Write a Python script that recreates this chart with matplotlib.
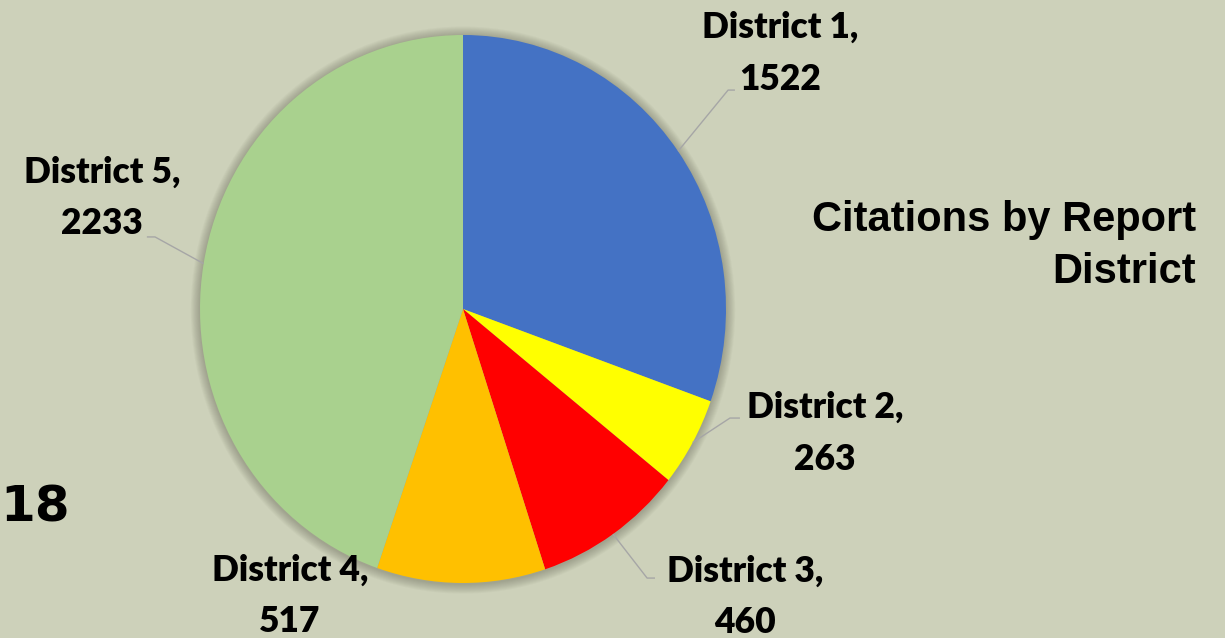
import numpy as np
import matplotlib
matplotlib.use("Agg")
import matplotlib.pyplot as plt
from matplotlib.patches import Ellipse

districts = ["District 1", "District 2", "District 3", "District 4", "District 5"]
citations = [1522, 263, 460, 517, 2233]
colors = ["#4472C4", "#FFFF00", "#FF0000", "#FFC000", "#A9D18E"]
title = "Citations by Report\nDistrict"

BG = "#CDD1BA"
W, H = 1225, 638
fig = plt.figure(figsize=(W / 100, H / 100), dpi=100, facecolor=BG)
ax = fig.add_axes([0, 0, 1, 1])
ax.set_facecolor(BG)

# pie geometry in pixels -> data limits (data unit = radius)
cx, cy, rx, ry = 463, 309, 263, 274

# soft shadow
for k in range(10):
    r = 1.0 + 0.0035 * (10 - k)
    ax.add_patch(Ellipse((0, -0.004), 2 * r, 2 * r, facecolor="#3a3a30",
                         alpha=0.03, edgecolor="none", zorder=1))

wedges, _ = ax.pie(citations, colors=colors, startangle=90, counterclock=False,
                   radius=1.0, wedgeprops=dict(linewidth=0, zorder=2))
ax.set_aspect("auto")
ax.set_xlim(-cx / rx, (W - cx) / rx)
ax.set_ylim((cy - H) / ry, cy / ry)
ax.axis("off")

lab_font = dict(family=["Lato", "DejaVu Sans"], fontsize=25.5, fontweight="heavy",
                color="black", ha="center", va="center", linespacing=1.7)
label_pos = [(1.205, 0.934), (1.376, -0.453), (1.072, -1.051), (-0.658, -1.047), (-1.373, 0.405)]
# leader lines: (elbow, end) or None
leaders = [((1.008, 0.799), (1.034, 0.799)),
           ((1.015, -0.398), (1.053, -0.398)),
           ((0.700, -0.982), (0.730, -0.982)),
           None,
           ((-1.171, 0.263), (-1.202, 0.263))]

for w, name, val, pos, ld in zip(wedges, districts, citations, label_pos, leaders):
    ax.text(pos[0], pos[1], f"{name},\n{val}", **lab_font, zorder=5)
    if ld is not None:
        mid = np.deg2rad((w.theta1 + w.theta2) / 2)
        p0 = (np.cos(mid), np.sin(mid))
        ax.plot([p0[0], ld[0][0], ld[1][0]], [p0[1], ld[0][1], ld[1][1]],
                color="#A6A6A6", lw=1.0, zorder=4, solid_capstyle="butt")

fig.text(1196 / W, 1 - 246 / H, title, ha="right", va="center",
         family=["Liberation Sans", "DejaVu Sans"], fontsize=30,
         fontweight="bold", linespacing=1.4, color="black")

fig.text(0, 1 - 508 / H, "18", ha="left", va="center",
         family=["DejaVu Sans"], fontsize=36, fontweight="bold", color="black")

fig.savefig("out.png", dpi=100, facecolor=BG)
